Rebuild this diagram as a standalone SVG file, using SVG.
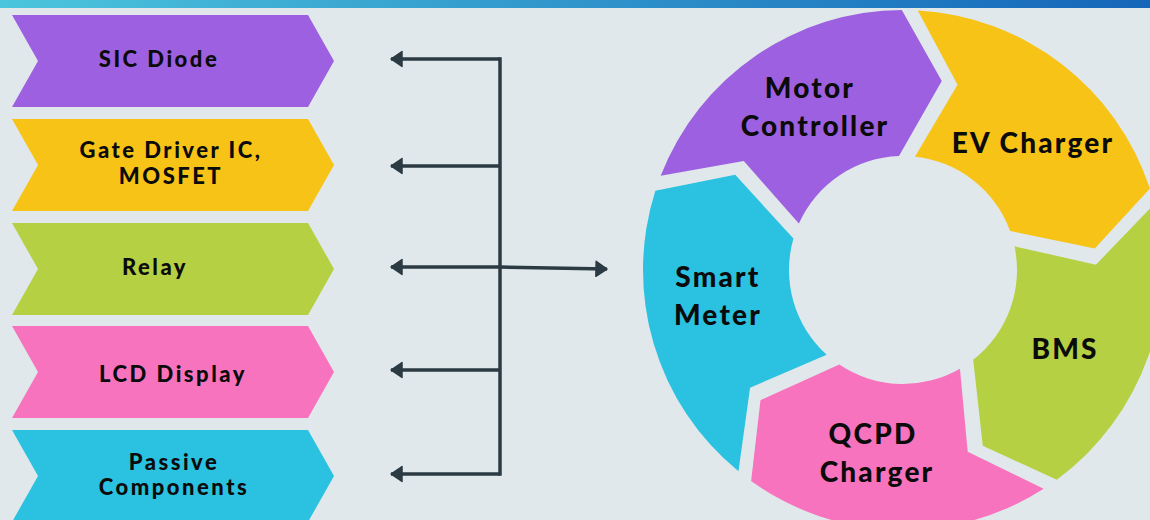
<svg xmlns="http://www.w3.org/2000/svg" width="1150" height="520" viewBox="0 0 1150 520">
  <defs>
    <linearGradient id="bar" x1="0" y1="0" x2="1" y2="0">
      <stop offset="0" stop-color="#4bc5dd"/>
      <stop offset="1" stop-color="#1565b9"/>
    </linearGradient>
    <marker id="arrow" viewBox="0 0 13 18" refX="12" refY="9" markerWidth="13" markerHeight="18" markerUnits="userSpaceOnUse" orient="auto">
      <path d="M1,1.5 L12,9 L1,16.5 Z" fill="#2b3a43" stroke="#2b3a43" stroke-width="1.5" stroke-linejoin="round"/>
    </marker>
    <path id="seg" d="M-244.69,-87.90 A260,260 0 0 1 -7.99,-259.88 L33.81,-190.02 L-7.00,-113.78 A114,114 0 0 0 -105.31,-43.66 L-162.03,-104.86 Z"/>
    <polygon id="chev" points="12,0 308,0 334,46 308,92 12,92 38,46"/>
  </defs>
  <style>
    .t { font-family: Lato, "Liberation Sans", sans-serif; font-weight: 900; fill: #0b0b0b; text-anchor: middle; }
    .s { font-size: 22px; letter-spacing: 2.5px; }
    .b { font-size: 28px; letter-spacing: 2.2px; }
    .conn { stroke: #2b3a43; stroke-width: 3.5; fill: none; }
    .purple { fill: #9d60e0; }
    .yellow { fill: #f7c317; }
    .green { fill: #b5d042; }
    .pink { fill: #f873bd; }
    .cyan { fill: #2ac2e0; }
  </style>
  <rect width="1150" height="520" fill="#e0e8eb"/>
  <rect width="1150" height="8" fill="url(#bar)"/>

  <g id="sic-diode">
    <use href="#chev" class="purple" transform="translate(0,15)"/>
    <text class="t s" x="159" y="67">SIC Diode</text>
  </g>
  <g id="gate-driver">
    <use href="#chev" class="yellow" transform="translate(0,119)"/>
    <text class="t s" x="171" y="158">Gate Driver IC,</text>
    <text class="t s" x="171" y="184">MOSFET</text>
  </g>
  <g id="relay">
    <use href="#chev" class="green" transform="translate(0,223)"/>
    <text class="t s" x="155" y="275">Relay</text>
  </g>
  <g id="lcd-display">
    <use href="#chev" class="pink" transform="translate(0,326)"/>
    <text class="t s" x="173" y="382">LCD Display</text>
  </g>
  <g id="passive">
    <use href="#chev" class="cyan" transform="translate(0,430)"/>
    <text class="t s" x="174" y="470">Passive</text>
    <text class="t s" x="174" y="495">Components</text>
  </g>

  <g id="connectors">
    <path class="conn" d="M500,57.25 V475.75"/>
    <path class="conn" d="M500,59 H391" marker-end="url(#arrow)"/>
    <path class="conn" d="M500,166 H391" marker-end="url(#arrow)"/>
    <path class="conn" d="M500,267 H391" marker-end="url(#arrow)"/>
    <path class="conn" d="M500,370 H391" marker-end="url(#arrow)"/>
    <path class="conn" d="M500,474 H391" marker-end="url(#arrow)"/>
    <path class="conn" d="M500,267 L607,269" marker-end="url(#arrow)"/>
  </g>

  <g id="motor-controller">
    <use href="#seg" class="purple" transform="translate(903,270) rotate(1.5)"/>
    <text class="t b" x="810" y="98">Motor</text>
    <text class="t b" x="815" y="136">Controller</text>
  </g>
  <g id="ev-charger">
    <use href="#seg" class="yellow" transform="translate(903,270) rotate(73.5)"/>
    <text class="t b" x="1033" y="153">EV Charger</text>
  </g>
  <g id="bms">
    <use href="#seg" class="green" transform="translate(903,270) rotate(145.5)"/>
    <text class="t b" x="1065" y="359">BMS</text>
  </g>
  <g id="qcpd-charger">
    <use href="#seg" class="pink" transform="translate(903,270) rotate(217.5)"/>
    <text class="t b" x="873" y="444">QCPD</text>
    <text class="t b" x="877" y="482">Charger</text>
  </g>
  <g id="smart-meter">
    <use href="#seg" class="cyan" transform="translate(903,270) rotate(289.5)"/>
    <text class="t b" x="718" y="287">Smart</text>
    <text class="t b" x="718" y="325">Meter</text>
  </g>
</svg>
